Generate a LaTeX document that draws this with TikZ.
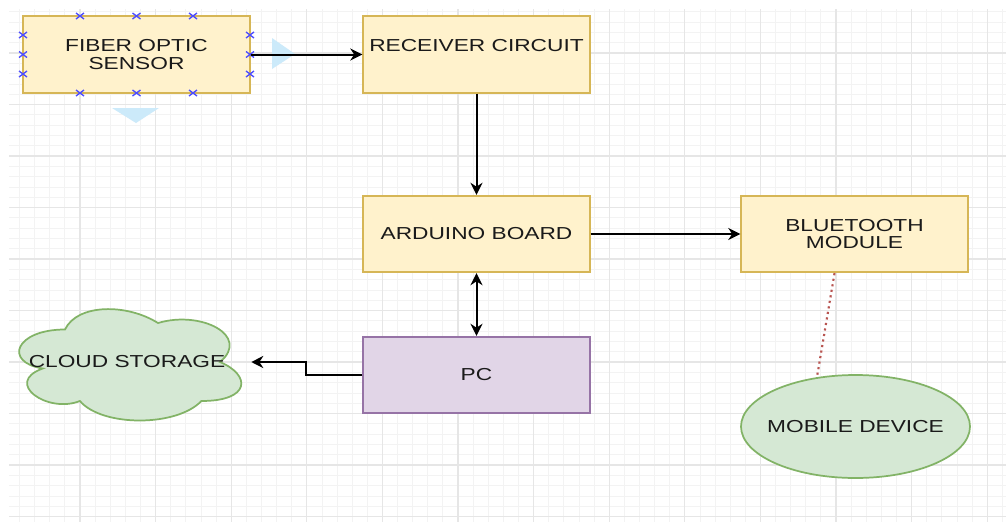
\documentclass[tikz,border=0pt]{standalone}
\usepackage{fontspec}
\setmainfont{Liberation Sans}[FakeStretch=1.31]
\usetikzlibrary{shapes.geometric,arrows.meta}

\definecolor{boxfill}{HTML}{FFF2CC}
\definecolor{boxline}{HTML}{D6B656}
\definecolor{pcfill}{HTML}{E1D5E7}
\definecolor{pcline}{HTML}{9673A6}
\definecolor{greenfill}{HTML}{D5E8D4}
\definecolor{greenline}{HTML}{82B366}
\definecolor{dotred}{HTML}{B85450}
\definecolor{handleblue}{HTML}{4D4DFF}
\definecolor{hoverblue}{RGB}{204,234,250}
\definecolor{gridmajor}{HTML}{E6E6E6}
\definecolor{gridminor}{HTML}{F3F3F3}
\definecolor{labeltext}{HTML}{1A1A1A}

\tikzset{
  box/.style={rectangle, draw=boxline, fill=boxfill, line width=1.3pt,
    minimum width=170pt, minimum height=57.5pt, inner sep=0pt, align=center,
    text=labeltext, font=\fontsize{13}{13}\selectfont},
  pcbox/.style={box, draw=pcline, fill=pcfill},
  arrow/.style={-{Stealth[length=9pt,width=9pt]}, line width=1.5pt},
  dblarrow/.style={{Stealth[length=9pt,width=9pt]}-{Stealth[length=9pt,width=9pt]}, line width=1.5pt},
  dotline/.style={draw=dotred, line width=1.6pt, dash pattern=on 1.6pt off 2.6pt},
  handle/.style={draw=handleblue, line width=1pt},
}

\begin{document}
\begin{tikzpicture}[x=0.75pt,y=-0.75pt]
  \useasboundingbox[fill=white] (0,0) rectangle (1006,522);

  % background grid
  \foreach \m in {-4,...,61}
    \draw[gridminor, line width=0.6pt] ({80+15.12*\m},9) -- ({80+15.12*\m},522);
  \foreach \n in {-4,...,45}
    \draw[gridminor, line width=0.6pt] (9,{53+10.3*\n}) -- (1006,{53+10.3*\n});
  \foreach \k in {0,...,12}
    \draw[gridmajor, line width=0.9pt] ({80+75.6*\k},9) -- ({80+75.6*\k},522);
  \foreach \k in {0,...,9}
    \draw[gridmajor, line width=0.9pt] (9,{53+51.5*\k}) -- (1006,{53+51.5*\k});

  % hover arrows
  \fill[hoverblue] (272,38) -- (295,54) -- (272,69) -- cycle;
  \fill[hoverblue] (112,108) -- (159,108) -- (136,123) -- cycle;

  % cloud outline
  \begin{scope}[shift={(3,297)}, x=186pt, y=-97.5pt]
    \draw[fill=greenfill, draw=greenline, line width=1.3pt]
      (0.25,0.25) .. controls (0.05,0.25) and (0,0.5) .. (0.16,0.55)
      .. controls (0,0.66) and (0.18,0.9) .. (0.31,0.8)
      .. controls (0.4,1) and (0.7,1) .. (0.8,0.8)
      .. controls (1,0.8) and (1,0.6) .. (0.875,0.5)
      .. controls (1,0.3) and (0.8,0.1) .. (0.625,0.2)
      .. controls (0.5,0.05) and (0.3,0.05) .. (0.25,0.25) -- cycle;
  \end{scope}

  \node[box] (sensor) at (136.5,54.5) {FIBER OPTIC\\SENSOR};
  \node[box] (receiver) at (476.5,54.5) {\raisebox{13.5pt}{RECEIVER CIRCUIT}};
  \node[box] (arduino) at (476.5,234) {ARDUINO BOARD};
  \node[box] (bluetooth) at (854.5,234) {BLUETOOTH\\MODULE};
  \node[pcbox] (pc) at (476.5,375) {PC};
  \node[rectangle, minimum width=186pt, minimum height=97.5pt, inner sep=0pt,
    text=labeltext, font=\fontsize{13}{13}\selectfont] (cloud) at (127,362) {CLOUD STORAGE};
  \node[ellipse, draw=greenline, fill=greenfill, line width=1.3pt,
    minimum width=171.75pt, minimum height=77.25pt, inner sep=0pt,
    text=labeltext, font=\fontsize{13}{13}\selectfont] (mobile) at (855.5,426.5) {\makebox[0pt]{MOBILE DEVICE}};

  % selection handles
  \foreach \hx in {80,136.5,193} {
    \draw[handle] (\hx,16) +(-4,-3) -- +(4,3) +(-4,3) -- +(4,-3);
    \draw[handle] (\hx,93) +(-4,-3) -- +(4,3) +(-4,3) -- +(4,-3);
  }
  \foreach \hy in {35,54.5,74} {
    \draw[handle] (23,\hy) +(-4,-3) -- +(4,3) +(-4,3) -- +(4,-3);
    \draw[handle] (250,\hy) +(-4,-3) -- +(4,3) +(-4,3) -- +(4,-3);
  }

  \draw[arrow] (sensor) -- (receiver);
  \draw[arrow] (receiver) -- (arduino);
  \draw[arrow] (arduino) -- (bluetooth);
  \draw[dblarrow] (arduino) -- (pc);
  \draw[arrow] (pc.west) -- ++(-56,0) |- (cloud.east);
  \draw[dotline] (bluetooth.-117) -- (mobile.128);
\end{tikzpicture}
\end{document}
